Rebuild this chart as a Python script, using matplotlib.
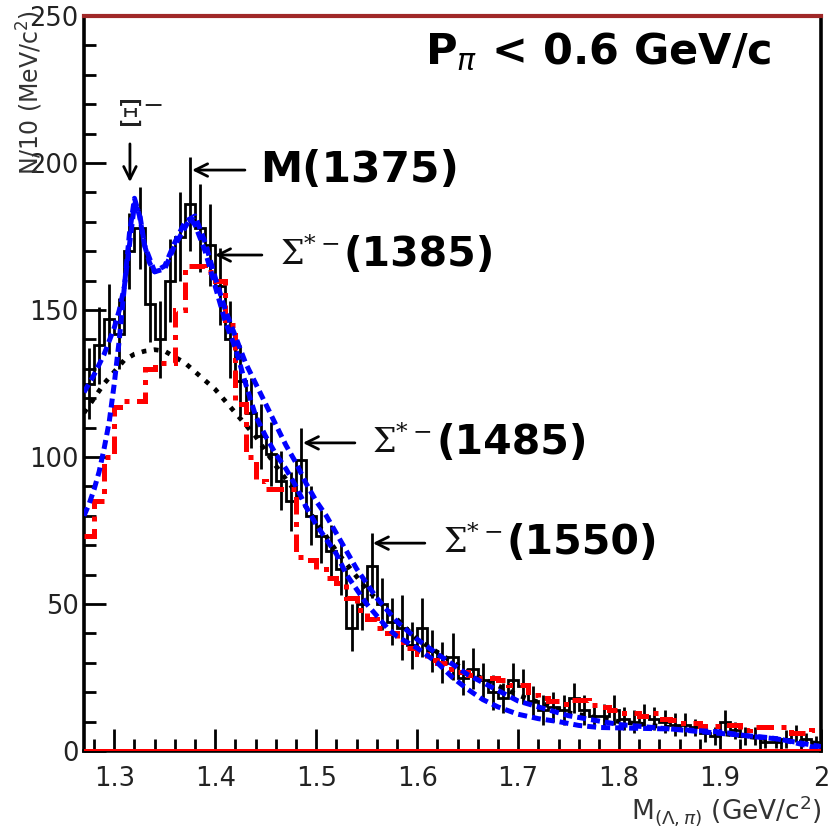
import numpy as np
import matplotlib
matplotlib.use("Agg")
import matplotlib.pyplot as plt
from matplotlib.ticker import MultipleLocator, FixedLocator

plt.rcParams['font.family'] = ['DejaVu Sans']

# ---- data -----------------------------------------------------------------
# 10 MeV bins from 1.27 to 2.00 GeV/c^2
bin_lo = 1.27
bin_w = 0.01
n_bins = 73

counts = [125, 138, 147, 142, 170, 178, 152, 140, 160, 175,
          186, 178, 172, 158, 140, 126, 115, 107, 101, 92,
          85, 99, 80, 73, 68, 62, 42, 50, 63, 50,
          44, 42, 36, 42, 34, 30, 32, 25, 28, 24,
          20, 18, 24, 22, 17, 14, 15, 14, 18, 14,
          12, 12, 14, 11, 10, 12, 11, 10, 9, 9,
          8, 6, 5, 10, 7, 5, 5, 3, 3, 4,
          6, 4, 3]
errors = [12, 13, 12, 12, 13, 14, 13, 13, 14, 15,
          16, 15, 14, 13, 13, 12, 12, 11, 11, 10,
          10, 11, 10, 9, 9, 9, 8, 9, 11, 9,
          8, 11, 8, 10, 7, 7, 8, 6, 7, 6,
          6, 5, 6, 6, 5, 5, 5, 5, 5, 5,
          4, 4, 5, 4, 4, 4, 4, 4, 4, 4,
          3, 3, 3, 4, 3, 3, 3, 2, 2, 3,
          3, 2, 2]

# red dash-dotted histogram
red_hist = [73, 85, 100, 117, 119, 119, 130, 132, 132, 150,
            165, 165, 163, 160, 145, 118, 100, 92, 89, 89,
            89, 66, 65, 62, 59, 57, 52, 48, 45, 42,
            40, 37, 35, 33, 31, 30, 28, 27, 26, 25,
            25, 24, 22.5, 22.5, 19, 18, 17, 16, 17.5, 17.5,
            15.5, 15, 14, 13, 13, 12, 13, 11, 10.5, 9.5,
            9.5, 8.5, 8.5, 9, 9, 7, 8, 8, 8, 8,
            6, 6, 7]

# blue dashed fit curves
blue1_x = [1.270, 1.280, 1.290, 1.300, 1.305, 1.310, 1.315, 1.320, 1.325, 1.330,
           1.335, 1.340, 1.350, 1.360, 1.370, 1.375, 1.380, 1.390, 1.400, 1.410,
           1.420, 1.430, 1.440, 1.450, 1.460, 1.470, 1.480, 1.490, 1.500, 1.510,
           1.520, 1.530, 1.540, 1.550, 1.560, 1.570, 1.580, 1.590, 1.600, 1.620,
           1.635, 1.650, 1.665, 1.680, 1.700, 1.720, 1.740, 1.760, 1.780, 1.850,
           1.900, 1.930, 1.960, 1.990, 2.000]
blue1_y = [122, 128, 135, 144, 150, 158, 172, 186, 183, 172,
           166, 163, 164, 172, 178, 181, 179, 170, 158, 146,
           137, 125, 114, 107, 101, 96, 90, 83, 77, 72,
           67, 60, 55, 50, 46, 42, 39, 37, 35, 30,
           25, 21, 17.5, 15, 12.5, 11, 10, 8.7, 8, 7.5,
           6.5, 5, 4, 1.5, 1]

blue2_x = [1.270, 1.275, 1.280, 1.285, 1.290, 1.295, 1.300, 1.305, 1.310, 1.315,
           1.320, 1.325, 1.330, 1.340, 1.350, 1.360, 1.370, 1.380, 1.390, 1.400,
           1.410, 1.420, 1.430, 1.440, 1.450, 1.460, 1.470, 1.480, 1.490, 1.500,
           1.510, 1.520, 1.530, 1.540, 1.550, 1.560, 1.570, 1.580, 1.590, 1.600,
           1.620, 1.650, 1.700, 1.750, 1.800, 1.850, 1.900, 1.950, 2.000]
blue2_y = [80, 84, 89, 95, 103, 112, 125, 140, 158, 176,
           188, 182, 172, 163, 165, 173, 180, 182, 173, 161,
           150, 141, 132, 125, 118, 111, 104, 98, 91, 85,
           80, 74, 68, 62, 57, 52, 48, 44, 41, 38,
           33, 26, 17, 12, 9, 7.5, 6, 4.5, 1.5]

# black dotted background
bg_x = [1.270, 1.280, 1.290, 1.300, 1.310, 1.320, 1.330, 1.340, 1.350, 1.360,
        1.370, 1.380, 1.390, 1.400, 1.410, 1.420, 1.430, 1.440, 1.450, 1.460,
        1.480, 1.500, 1.520, 1.550, 1.600, 1.650, 1.700, 1.750, 1.800, 1.850,
        1.900, 1.950, 2.000]
bg_y = [115, 120, 125, 129, 133, 135, 136, 136.5, 136, 134,
        132, 129, 126, 123, 119, 115, 111, 107, 102, 97,
        88, 78, 68, 55, 38, 27, 19, 13, 10, 8,
        6, 4, 2.5]

x_ticks = [1.3, 1.4, 1.5, 1.6, 1.7, 1.8, 1.9, 2.0]
x_ticklabels = ['1.3', '1.4', '1.5', '1.6', '1.7', '1.8', '1.9', '2']
y_ticks = [0, 50, 100, 150, 200, 250]

# ---- figure ---------------------------------------------------------------
fig = plt.figure(figsize=(8.32, 8.27), dpi=100)
ax = fig.add_axes([84 / 832, 76 / 827, 737 / 832, 735 / 827])

edges = bin_lo + bin_w * np.arange(n_bins + 1)
centers = 0.5 * (edges[:-1] + edges[1:])

ax.stairs(counts, edges, color='black', lw=2.0, baseline=None, zorder=2)
ax.errorbar(centers, counts, yerr=errors, fmt='none', ecolor='black',
            elinewidth=2.0, capsize=0, zorder=2)
ax.plot(bg_x, bg_y, color='black', lw=3.4, ls=(0, (1.0, 1.6)), zorder=3)
ax.stairs(red_hist, edges, color='red', lw=3.6, baseline=None,
          ls=(0, (3.5, 1.5, 1.0, 1.5)), zorder=4)
ax.plot(blue2_x, blue2_y, color='blue', lw=3.6, ls=(0, (1.8, 1.0)), zorder=5)
ax.plot(blue1_x, blue1_y, color='blue', lw=3.6, ls=(0, (1.8, 1.0)), zorder=5)

ax.axhline(0, color='red', lw=3.6, zorder=6)

ax.set_xlim(1.27, 2.0)
ax.set_ylim(0, 250)

ax.xaxis.set_major_locator(FixedLocator(x_ticks))
ax.set_xticklabels(x_ticklabels)
ax.xaxis.set_minor_locator(MultipleLocator(0.02))
ax.yaxis.set_major_locator(FixedLocator(y_ticks))
ax.yaxis.set_minor_locator(MultipleLocator(10))

ax.tick_params(axis='both', which='both', direction='in', top=False, right=False,
               width=2.0, color='black', labelsize=18.5, labelcolor='#222222')
ax.tick_params(axis='both', which='major', length=16)
ax.tick_params(axis='both', which='minor', length=8.5)
ax.tick_params(axis='x', which='major', pad=11)
ax.tick_params(axis='y', which='major', pad=4)

for side in ['left', 'right', 'bottom']:
    ax.spines[side].set_linewidth(2.6)
    ax.spines[side].set_color('black')
ax.spines['top'].set_linewidth(3.0)
ax.spines['top'].set_color('#a02828')

# axis titles
fig.text(30 / 832, 1 - 92 / 827, 'N/10 (MeV/c$^{2}$)', rotation=90,
         ha='center', va='center', fontsize=17, color='#333333')
fig.text(822 / 832, 1 - 811 / 827,
         r'M$_{(\Lambda,\pi)}$ (GeV/c$^{2}$)', ha='right', va='center',
         fontsize=19, color='#333333')

# cut label
ax.text(0.4627, 0.951, r'P$_{\pi}$ < 0.6 GeV/c', transform=ax.transAxes,
        ha='left', va='center', fontsize=31, fontweight='bold')

# resonance markers
arrow_kw = dict(arrowstyle='->,head_length=0.9,head_width=0.45', color='black',
                lw=2.0, shrinkA=0, shrinkB=0)

ax.annotate('', xy=(1.3155, 193.5), xytext=(1.3155, 206.5), arrowprops=arrow_kw)
ax.text(1.3255, 216, r'$\Xi^{-}$', ha='center', va='center', fontsize=26,
        math_fontfamily='dejavuserif', color='#222222')

ax.annotate('', xy=(1.377, 197.6), xytext=(1.4294, 197.6), arrowprops=arrow_kw)
ax.text(1.4443, 197.6, 'M(1375)', ha='left', va='center', fontsize=30.5,
        fontweight='bold')

# (arrow tail x, arrow head x, y, sigma x, bracket x, mass)
sigma_labels = [
    (1.4462, 1.3997, 168.7, 1.4641, 1.5275, '(1385)'),
    (1.5383, 1.4868, 104.8, 1.5552, 1.6190, '(1485)'),
    (1.6076, 1.5561, 70.7, 1.6255, 1.6880, '(1550)'),
]
for tail, head, yy, xs, xb, mass in sigma_labels:
    ax.annotate('', xy=(head, yy), xytext=(tail, yy), arrowprops=arrow_kw)
    ax.text(xs, yy, r'$\Sigma^{*-}$', ha='left', va='center', fontsize=24,
            math_fontfamily='dejavuserif', color='#111111')
    ax.text(xb, yy, mass, ha='left', va='center', fontsize=29.5,
            fontweight='bold')

fig.savefig('out.png', dpi=100)
